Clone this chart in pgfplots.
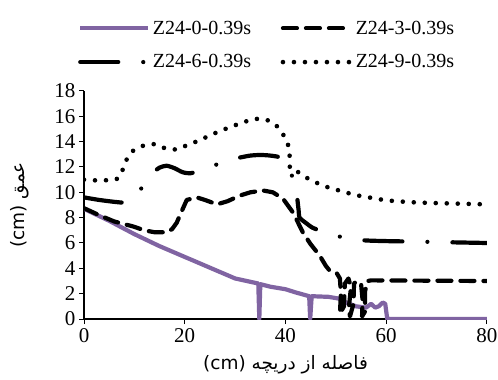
\documentclass[border=0pt]{standalone}
\usepackage{pgfplots}
\pgfplotsset{compat=1.18}
\usepackage{fontspec}
\setmainfont{Liberation Serif}
\newfontfamily\arabicfont[Script=Arabic]{DejaVu Sans}
\TeXXeTstate=1
\definecolor{expurple}{RGB}{128,100,162}
\begin{document}
\begin{tikzpicture}
\useasboundingbox (0,0) rectangle (498pt,380pt);
\begin{axis}[
  at={(84pt,61pt)}, anchor=south west,
  scale only axis, width=403pt, height=228pt,
  xmin=0, xmax=80, ymin=0, ymax=18,
  xtick={0,20,40,60,80}, ytick={0,2,...,18},
  axis x line*=bottom, axis y line*=left,
  axis line style={line width=1.2pt, -},
  tick align=outside, tick style={line width=1pt, black},
  major tick length=5pt,
  /pgf/number format/assume math mode=true,
  tick label style={font=\fontsize{21}{23}\selectfont},
  xticklabel style={yshift=-1pt},
  xlabel={\arabicfont\fontsize{18.5}{21}\selectfont\beginR فاصله از دریچه (cm)\endR},
  ylabel={\arabicfont\fontsize{18.5}{21}\selectfont\beginR عمق (cm)\endR},
  xlabel style={at={(axis description cs:0.5,-0.2)}, anchor=center},
  ylabel style={at={(axis description cs:-0.16,0.5)}, anchor=center},
  legend columns=2,
  legend cell align=left,
  legend style={draw=none, fill=none, at={(-0.015,1.315)}, anchor=north west,
    inner sep=0pt, font=\fontsize{20}{22}\selectfont, row sep=16pt,
    nodes={inner sep=1.5pt},
    /tikz/every odd column/.append style={column sep=1pt},
    /tikz/every even column/.append style={column sep=28pt}},
  legend image code/.code={\draw[#1] (0pt,0pt) -- (68pt,0pt);},
]
\addplot[expurple, line width=4.2pt, line join=round] coordinates {
(0,8.7) (5,7.75) (10,6.7) (15,5.75) (20,4.9) (25,4.05) (30,3.2) (34.6,2.8) (34.8,0) (35.0,2.75)
(37,2.55) (40,2.35) (42,2.1) (44.7,1.8) (44.9,0) (45.2,1.8) (48.5,1.75) (50.8,1.6) (52,1.3)
(54,1.0) (56,0.9) (57,1.2) (57.8,0.9) (58.5,1.0) (59.3,1.3) (59.8,1.2) (60.2,0) (80,0)};
\addlegendentry{Z24-0-0.39s}
\addplot[black, line width=4.2pt, line cap=round, line join=round, dash pattern=on 14pt off 9pt] coordinates {
(0,8.75) (3,8.2) (6,7.7) (9.8,7.3) (12,7.0) (14,6.85) (16.4,6.85) (17.5,7.1) (18.4,7.6) (19.5,8.6)
(20.4,9.4) (22.4,9.6) (24,9.4) (26.4,9.05) (28.5,9.3) (31,9.75) (33,10.0) (35.5,10.15) (37.5,10.0)
(39.5,9.5) (41.5,8.4) (43.5,6.8) (45,5.9) (46.8,5.0) (48,4.2) (48.8,3.8) (50.2,3.6)
(50.8,3.2) (51.0,2.0) (50.8,0.4) (51.6,1.0) (51.8,2.8) (52.5,3.2) (53,2.5) (52.6,1.0) (52.8,0.2)
(53.5,1.2) (53.6,2.8) (54.2,3.0) (55.0,2.8) (55.3,1.5) (55.2,0.2) (55.8,0.6) (55.8,2.2) (56.3,3.0)
(57,3.05) (80,3.0)};
\addlegendentry{Z24-3-0.39s}
\addplot[black, line width=4.2pt, line cap=round, line join=round, smooth, tension=0.4,
  dash pattern=on 38pt off 25pt on 0pt off 25pt] coordinates {
(0,9.6) (3,9.4) (6,9.25) (8,9.2) (9.5,9.5) (11,10.1) (12.5,11.0) (13.5,11.5) (15,11.95) (16.4,12.1)
(18,11.9) (19.5,11.6) (21,11.5) (23,11.7) (25.2,12.0) (27.5,12.4) (29.5,12.6) (31,12.75) (33,12.9)
(35,12.95) (37,12.9) (39,12.75) (40.5,12.2) (41.8,10.6) (42.3,9.6) (42.6,8.6) (42.8,8.0) (44,7.6)
(45.4,7.2) (47.5,6.9) (49.8,6.65) (52,6.35) (56,6.2) (60,6.15) (67,6.1) (80,6.0)};
\addlegendentry{Z24-6-0.39s}
\addplot[black, line width=4.6pt, line cap=round, smooth, tension=0.4,
  dash pattern=on 0pt off 11pt] coordinates {
(0,11.0) (2,10.95) (4,10.95) (6,11.0) (7,11.2) (8,12.1) (8.6,12.7) (9.8,13.3) (11.9,13.7) (14.1,13.8)
(16.3,13.45) (18.5,13.4) (20.6,13.75) (22.9,14.1) (25,14.5) (27.1,14.85) (29.3,15.2) (31.5,15.5)
(33.3,15.75) (35.5,15.8) (37.5,15.5) (39,14.9) (40.3,14.0) (40.8,13.2) (40.8,12.4) (41,11.8)
(42.5,11.6) (44.2,11.15) (46.2,10.75) (48.4,10.4) (50.6,10.15) (52.8,9.9) (55,9.7) (57.3,9.55)
(59.5,9.4) (62,9.3) (66,9.2) (70,9.15) (75,9.1) (80,9.05)};
\addlegendentry{Z24-9-0.39s}
\end{axis}
\end{tikzpicture}
\end{document}
